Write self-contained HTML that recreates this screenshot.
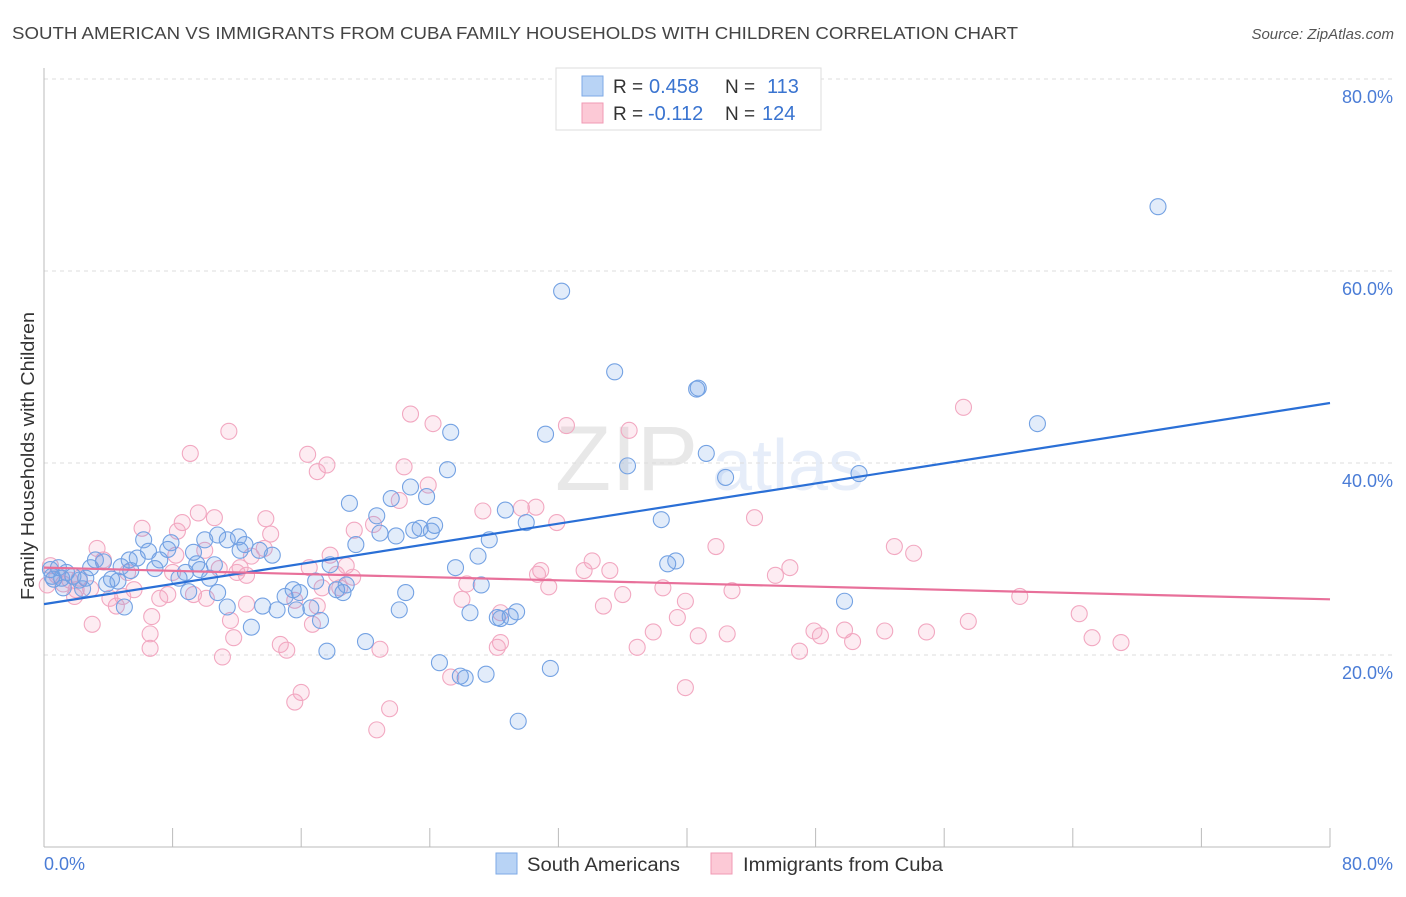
<!DOCTYPE html>
<html><head><meta charset="utf-8"><style>
body{margin:0;background:#fff;font-family:"Liberation Sans",sans-serif;}
svg text{font-family:"Liberation Sans",sans-serif;}
</style></head><body>
<svg id="chart" width="1406" height="892" xmlns="http://www.w3.org/2000/svg">
<text x="12" y="39" font-size="17.5" fill="#444" textLength="1006" lengthAdjust="spacingAndGlyphs">SOUTH AMERICAN VS IMMIGRANTS FROM CUBA FAMILY HOUSEHOLDS WITH CHILDREN CORRELATION CHART</text>
<text x="1394" y="39" font-size="15" fill="#555" text-anchor="end" font-style="italic">Source: ZipAtlas.com</text>
<g opacity="0.13">
<text x="555" y="490" font-size="92" font-family="Liberation Serif" fill="#555">ZIP</text>
<text x="712" y="490" font-size="72" fill="#4a7cd6">atlas</text>
</g>
<g id="grid"></g>
<g id="axes"></g>
<g id="pinkPts"></g>
<g id="bluePts"></g>
<g id="lines"></g>
<text transform="translate(34,456) rotate(-90)" font-size="18" fill="#333" text-anchor="middle" textLength="288" lengthAdjust="spacingAndGlyphs">Family Households with Children</text>
<g>
<rect x="556" y="68" width="265" height="62" fill="#fff" stroke="#ddd"/>
<rect x="582" y="76" width="21" height="20" fill="#b8d3f5" stroke="#7eaae6"/>
<rect x="582" y="103" width="21" height="20" fill="#fcc9d6" stroke="#f09ab4"/>
<text x="613" y="93" font-size="19" fill="#333">R =</text>
<text x="649" y="93" font-size="20" fill="#3a74d0">0.458</text>
<text x="725" y="93" font-size="19" fill="#333">N =</text>
<text x="767" y="93" font-size="20" fill="#3a74d0">113</text>
<text x="613" y="120" font-size="19" fill="#333">R =</text>
<text x="648" y="120" font-size="20" fill="#3a74d0">-0.112</text>
<text x="725" y="120" font-size="19" fill="#333">N =</text>
<text x="762" y="120" font-size="20" fill="#3a74d0">124</text>
</g>
<g>
<rect x="496" y="853" width="21" height="21" fill="#b8d3f5" stroke="#7eaae6"/>
<text x="527" y="871" font-size="19" fill="#333" textLength="153" lengthAdjust="spacingAndGlyphs">South Americans</text>
<rect x="711" y="853" width="21" height="21" fill="#fcc9d6" stroke="#f09ab4"/>
<text x="743" y="871" font-size="19" fill="#333" textLength="200" lengthAdjust="spacingAndGlyphs">Immigrants from Cuba</text>
</g>
</svg>
<script>
const yTicks=[20,40,60,80];
const yTickLabels=["20.0%","40.0%","60.0%","80.0%"];
const xTickLabels=["0.0%","80.0%"];
const blueTrend=[25.3,46.25];
const pinkTrend=[29.1,25.8];
const blueX=[69.3,32.2,35.5,40.6,40.7,61.8,25.3,31.2,36.3,41.2,42.4,50.7,25.1,19.0,21.6,22.8,23.8,20.7,20.9,21.9,23.0,23.4,24.3,24.1,28.7,30.0,27.7,19.4,38.4,38.8,39.3,49.8,27.0,25.6,27.2,26.5,28.2,29.0,29.4,28.4,24.6,25.9,26.2,27.5,31.5,29.5,18.2,18.6,18.8,17.8,16.9,17.6,20.0,22.1,22.5,17.2,16.6,15.7,15.9,15.5,15.0,14.5,13.6,12.9,11.4,10.8,10.6,10.3,9.5,9.3,9.0,8.4,7.7,7.9,6.9,6.5,6.2,5.8,5.4,5.0,4.8,4.6,4.2,3.7,3.2,2.9,2.6,2.2,1.8,1.4,1.1,0.9,0.5,0.4,0.6,1.2,2.4,3.9,5.3,7.2,10.0,11.4,12.2,12.5,13.4,14.2,10.8,12.1,8.8,9.7];
const blueY=[66.7,57.9,49.5,47.7,47.8,44.1,43.2,43.0,39.7,41.0,38.5,38.9,39.3,35.8,36.3,37.5,36.5,34.5,32.7,32.4,33.0,33.2,33.5,32.9,35.1,33.8,32.0,31.5,34.1,29.5,29.8,25.6,30.3,29.1,27.3,24.4,23.9,24.0,24.5,23.8,19.2,17.8,17.6,18.0,18.6,13.1,26.8,26.5,27.3,29.4,27.7,20.4,21.4,24.7,26.5,23.6,24.9,24.7,26.5,26.8,26.1,24.7,25.1,22.9,25.0,26.5,29.4,28.0,29.5,30.7,26.6,28.0,31.0,31.7,29.0,30.8,32.0,30.1,28.8,25.0,29.2,27.7,27.9,29.7,29.9,29.1,28.0,27.8,28.2,28.6,28.0,29.1,28.2,28.9,27.9,27.0,26.9,27.4,29.9,29.9,32.0,32.0,30.9,31.5,30.9,30.4,32.5,32.3,28.6,28.9];
const pinkX=[57.2,22.8,24.2,32.5,36.4,11.5,9.1,16.4,17.6,17.0,22.4,23.9,22.1,27.3,29.7,30.6,31.9,44.2,52.9,54.1,41.8,46.4,45.5,34.1,35.2,30.9,30.7,33.6,26.3,26.0,28.4,31.4,34.8,36.0,38.5,39.9,42.8,47.9,48.3,49.8,50.3,52.3,54.9,57.5,60.7,64.4,65.2,67.0,47.0,42.5,40.7,37.9,36.9,39.4,39.9,28.4,28.2,25.3,20.7,21.5,16.0,15.6,20.9,16.7,18.8,19.3,20.5,19.2,18.2,18.4,16.5,17.3,17.0,13.8,13.7,12.9,12.2,12.0,11.6,11.8,11.1,12.6,14.7,15.1,10.9,10.6,10.0,9.6,8.6,8.3,8.2,8.0,7.2,6.7,6.6,6.1,5.2,4.9,4.5,4.1,3.7,3.3,3.0,2.2,2.0,1.6,1.2,0.8,0.4,0.2,1.9,2.9,5.6,7.7,10.1,12.6,14.1,17.8,15.6,6.6,9.3];
const pinkY=[45.8,45.1,44.1,43.9,43.4,43.3,41.0,40.9,39.8,39.1,39.6,37.7,36.1,35.0,35.3,35.4,33.8,34.3,31.3,30.6,31.3,29.1,28.3,29.8,28.8,28.8,28.4,28.8,27.4,25.8,24.4,27.1,25.1,26.3,27.0,25.6,26.7,22.5,22.0,22.6,21.4,22.5,22.4,23.5,26.1,24.3,21.8,21.3,20.4,22.2,22.0,22.4,20.8,23.9,16.6,21.3,20.8,17.7,12.2,14.4,16.1,15.1,20.6,23.2,29.3,33.0,33.6,28.1,28.4,27.0,29.1,27.0,25.1,34.2,31.1,30.3,29.1,28.6,23.6,21.8,19.8,25.3,21.1,20.5,29.0,34.3,30.9,34.8,33.8,32.9,30.4,28.6,25.9,24.0,20.7,33.2,28.6,26.1,25.1,25.9,29.9,31.1,23.2,28.0,26.8,27.8,27.4,28.3,29.3,27.3,26.1,26.9,26.8,26.3,25.9,28.3,32.6,30.4,25.7,22.2,26.3];
const NS="http://www.w3.org/2000/svg";
const X0=44,X1=1330,Y0=847,Y1=79;
function sx(v){return X0+(v/80)*(X1-X0);}
function sy(v){return Y0-(v/80)*(Y0-Y1);}
function mk(tag,attrs,parent){const e=document.createElementNS(NS,tag);for(const k in attrs)e.setAttribute(k,attrs[k]);parent.appendChild(e);return e;}
const grid=document.getElementById('grid'),axes=document.getElementById('axes');
yTicks.forEach((t,i)=>{
  const l=mk('line',{x1:X0,x2:1394,y1:sy(t),y2:sy(t),stroke:'#ddd','stroke-dasharray':'4,4'},grid);
  
  
  const tx=mk('text',{x:1393,y:sy(t)+24,'font-size':18,fill:'#4a7cd6','text-anchor':'end'},axes);
  tx.textContent=yTickLabels[i];
  
  
});
mk('line',{x1:X0,x2:X0,y1:68,y2:Y0,stroke:'#bbb'},axes);
mk('line',{x1:X0,x2:X1,y1:Y0,y2:Y0,stroke:'#bbb'},axes);
for(let i=1;i<=10;i++){const t=mk('line',{x1:sx(i*8),x2:sx(i*8),y1:828,y2:Y0,stroke:'#bbb'},axes);
  
  }
const xl0=mk('text',{x:44,y:870,'font-size':18,fill:'#4a7cd6'},axes);xl0.textContent=xTickLabels[0];


const xl1=mk('text',{x:1393,y:870,'font-size':18,fill:'#4a7cd6','text-anchor':'end'},axes);xl1.textContent=xTickLabels[1];


function pts(xs,ys,g,fill,stroke,name){xs.forEach((x,i)=>{const c=mk('circle',{cx:sx(x),cy:sy(ys[i]),r:8,fill:fill,stroke:stroke,'stroke-width':1.1},g);
  
  });}
pts(pinkX,pinkY,document.getElementById('pinkPts'),'rgba(244,160,188,0.2)','#f2a8c1','cuba-point');
pts(blueX,blueY,document.getElementById('bluePts'),'rgba(110,160,232,0.2)','#74a2e3','south-american-point');
const lg=document.getElementById('lines');
const bl=mk('line',{x1:sx(0),y1:sy(blueTrend[0]),x2:sx(80),y2:sy(blueTrend[1]),stroke:'#2a6fd6','stroke-width':2.2},lg);


const pl=mk('line',{x1:sx(0),y1:sy(pinkTrend[0]),x2:sx(80),y2:sy(pinkTrend[1]),stroke:'#e8709a','stroke-width':2.2},lg);


</script>
</body></html>
